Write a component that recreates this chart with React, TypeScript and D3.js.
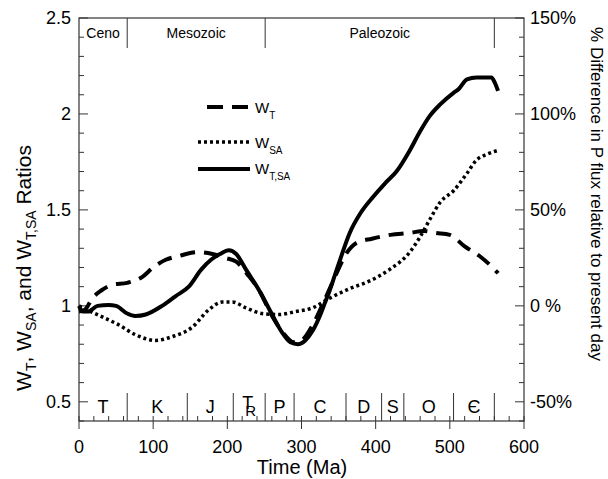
import React from 'react';
import * as d3 from 'd3';

const WIDTH = 608;
const HEIGHT = 479;

// W_T (dashed)
const wtTime = [0, 8, 18, 30, 45, 65, 85, 100, 117, 135, 160, 180, 197, 212, 228, 243, 260, 275, 290, 300, 315, 330, 345, 360, 375, 395, 420, 445, 465, 480, 500, 520, 540, 555, 565];
const wtValue = [0.97, 0.98, 1.04, 1.08, 1.11, 1.12, 1.15, 1.2, 1.24, 1.26, 1.28, 1.27, 1.25, 1.23, 1.16, 1.08, 0.95, 0.86, 0.81, 0.82, 0.9, 1.02, 1.15, 1.27, 1.33, 1.35, 1.37, 1.38, 1.39, 1.38, 1.37, 1.31, 1.26, 1.21, 1.17];

// W_SA (dotted)
const wsaTime = [0, 10, 27, 54, 76, 103, 126, 153, 175, 193, 207, 225, 247, 270, 292, 315, 338, 365, 392, 419, 446, 460, 473, 487, 505, 523, 536, 550, 565];
const wsaValue = [1.0, 0.98, 0.95, 0.9, 0.85, 0.82, 0.84, 0.89, 0.98, 1.02, 1.02, 0.99, 0.96, 0.955, 0.97, 0.99, 1.04, 1.09, 1.13, 1.19, 1.28, 1.36, 1.45, 1.54, 1.6, 1.69, 1.76, 1.79, 1.81];

// W_T,SA (solid)
const wtsaTime = [0, 5, 12, 25, 40, 50, 65, 76, 90, 112, 130, 148, 165, 178, 190, 202, 212, 225, 243, 261, 274, 285, 295, 305, 315, 325, 332, 338, 345, 352, 365, 379, 397, 413, 428, 446, 460, 473, 487, 505, 512, 523, 536, 556, 561, 565];
const wtsaValue = [1.0, 0.97, 0.97, 1.0, 1.005, 1.0, 0.96, 0.947, 0.955, 1.0, 1.05, 1.1, 1.19, 1.24, 1.27, 1.29, 1.27, 1.19, 1.08, 0.95, 0.86, 0.81, 0.8, 0.82, 0.87, 0.95, 1.02, 1.08, 1.16, 1.24, 1.38, 1.48, 1.57, 1.64, 1.7, 1.81, 1.91, 1.99, 2.05, 2.11, 2.13, 2.18, 2.19, 2.19, 2.16, 2.12];

const eraNames = ['Ceno', 'Mesozoic', 'Paleozoic'];
const eraBounds = [0, 65, 251, 560];
const periodNames = ['T', 'K', 'J', 'TR', 'P', 'C', 'D', 'S', 'O', '\u0404'];
const periodBounds = [0, 65, 146, 208, 251, 290, 360, 408, 438, 505, 560];

const xTicks = [0, 100, 200, 300, 400, 500, 600];
const yTicks = [0.5, 1, 1.5, 2, 2.5];
const yRightLabels = ['-50%', '0 %', '50%', '100%', '150%'];

const FONT = '"Liberation Sans", Arial, Helvetica, sans-serif';

export default function App() {
  const x = d3.scaleLinear().domain([0, 600]).range([79, 524]);
  const y = d3.scaleLinear().domain([0.4, 2.5]).range([421, 18]);
  const [x0, x1] = x.range();
  const [yb, yt] = y.range();

  const mk = (ts: number[], vs: number[]) =>
    d3.line<number>().x((_, i) => x(ts[i])).y((v) => y(v)).curve(d3.curveMonotoneX)(vs) || '';

  const minorY = d3.range(0.4, 2.5001, 0.1);
  const minorX = d3.range(0, 600.001, 20);
  const ink = '#000';
  const axisCol = '#333';

  return (
    <svg width={WIDTH} height={HEIGHT} style={{ position: 'absolute', left: 0, top: 0, background: '#fff' }} fontFamily={FONT}>
      {/* frame */}
      <rect x={x0} y={yt} width={x1 - x0} height={yb - yt} fill="none" stroke={axisCol} strokeWidth={1.2} />
      {/* left & right ticks */}
      {minorY.map((v, i) => {
        const major = Math.abs(v * 2 - Math.round(v * 2)) < 1e-6;
        const len = major ? 9 : 5;
        return (
          <g key={'yt' + i}>
            <line x1={x0} x2={x0 + len} y1={y(v)} y2={y(v)} stroke={axisCol} strokeWidth={1} />
            <line x1={x1} x2={x1 - len} y1={y(v)} y2={y(v)} stroke={axisCol} strokeWidth={1} />
          </g>
        );
      })}
      {/* bottom ticks */}
      {minorX.map((t, i) => (
        <line key={'xm' + i} x1={x(t)} x2={x(t)} y1={yb} y2={yb - 5} stroke={axisCol} strokeWidth={1} />
      ))}
      {xTicks.map((t) => (
        <line key={'xM' + t} x1={x(t)} x2={x(t)} y1={yb} y2={yb + 8} stroke={axisCol} strokeWidth={1} />
      ))}
      {/* tick labels */}
      {xTicks.map((t) => (
        <text key={'xl' + t} x={x(t)} y={453} fontSize={18} textAnchor="middle" fill={ink}>{t}</text>
      ))}
      {yTicks.map((v) => (
        <text key={'yl' + v} x={x0 - 8} y={y(v) + 6} fontSize={18} textAnchor="end" fill={ink}>{v}</text>
      ))}
      {yTicks.map((v, i) => (
        <text key={'yr' + v} x={x1 + 6} y={y(v) + 6} fontSize={18} textAnchor="start" fill={ink}>{yRightLabels[i]}</text>
      ))}
      {/* axis titles */}
      <text x={302} y={474} fontSize={20} textAnchor="middle" fill={ink}>Time (Ma)</text>
      <text transform="translate(31,268) rotate(-90)" fontSize={21} textAnchor="middle" fill={ink}>
        W<tspan fontSize={14} dy={5}>T</tspan>
        <tspan dy={-5}>, W</tspan><tspan fontSize={14} dy={5}>SA</tspan>
        <tspan dy={-5}>, and W</tspan><tspan fontSize={14} dy={5}>T,SA</tspan>
        <tspan dy={-5}> Ratios</tspan>
      </text>
      <text transform="translate(591,194) rotate(90)" fontSize={17} textAnchor="middle" fill={ink}>
        % Difference in P flux relative to present day
      </text>
      {/* era band */}
      {eraBounds.slice(1).map((b, i) => (
        <line key={'eb' + i} x1={x(b)} x2={x(b)} y1={yt} y2={48} stroke={axisCol} strokeWidth={1} />
      ))}
      {eraNames.map((n, i) => (
        <text key={'en' + i} x={x((eraBounds[i] + eraBounds[i + 1]) / 2)} y={38} fontSize={14} textAnchor="middle" fill={ink}>{n}</text>
      ))}
      {/* period band */}
      {periodBounds.slice(1).map((b, i) => (
        <line key={'pb' + i} x1={x(b)} x2={x(b)} y1={393} y2={yb} stroke={axisCol} strokeWidth={1} />
      ))}
      {periodNames.map((n, i) => {
        const cx = x((periodBounds[i] + periodBounds[i + 1]) / 2);
        if (n === 'TR') {
          return (
            <text key={'pn' + i} x={cx} y={409} fontSize={18} textAnchor="middle" fill={ink}>
              T<tspan fontSize={15} dx={-8} dy={7}>R</tspan>
            </text>
          );
        }
        return (
          <text key={'pn' + i} x={cx} y={413} fontSize={18} textAnchor="middle" fill={ink}>{n}</text>
        );
      })}
      {/* series */}
      <path d={mk(wsaTime, wsaValue)} fill="none" stroke={ink} strokeWidth={3.5} strokeDasharray="3 3" />
      <path d={mk(wtTime, wtValue)} fill="none" stroke={ink} strokeWidth={4} strokeDasharray="15 9" />
      <path d={mk(wtsaTime, wtsaValue)} fill="none" stroke={ink} strokeWidth={4} strokeLinejoin="round" />
      {/* legend */}
      <line x1={207} x2={248} y1={107} y2={107} stroke={ink} strokeWidth={4} strokeDasharray="16 9" />
      <text x={255} y={113} fontSize={15} fill={ink}>W<tspan fontSize={10} dy={6}>T</tspan></text>
      <line x1={198} x2={249} y1={142} y2={142} stroke={ink} strokeWidth={3.5} strokeDasharray="3 3" />
      <text x={255} y={148} fontSize={15} fill={ink}>W<tspan fontSize={10} dy={6}>SA</tspan></text>
      <line x1={198} x2={250} y1={169} y2={169} stroke={ink} strokeWidth={4} />
      <text x={255} y={174} fontSize={15} fill={ink}>W<tspan fontSize={10} dy={6}>T,SA</tspan></text>
    </svg>
  );
}
